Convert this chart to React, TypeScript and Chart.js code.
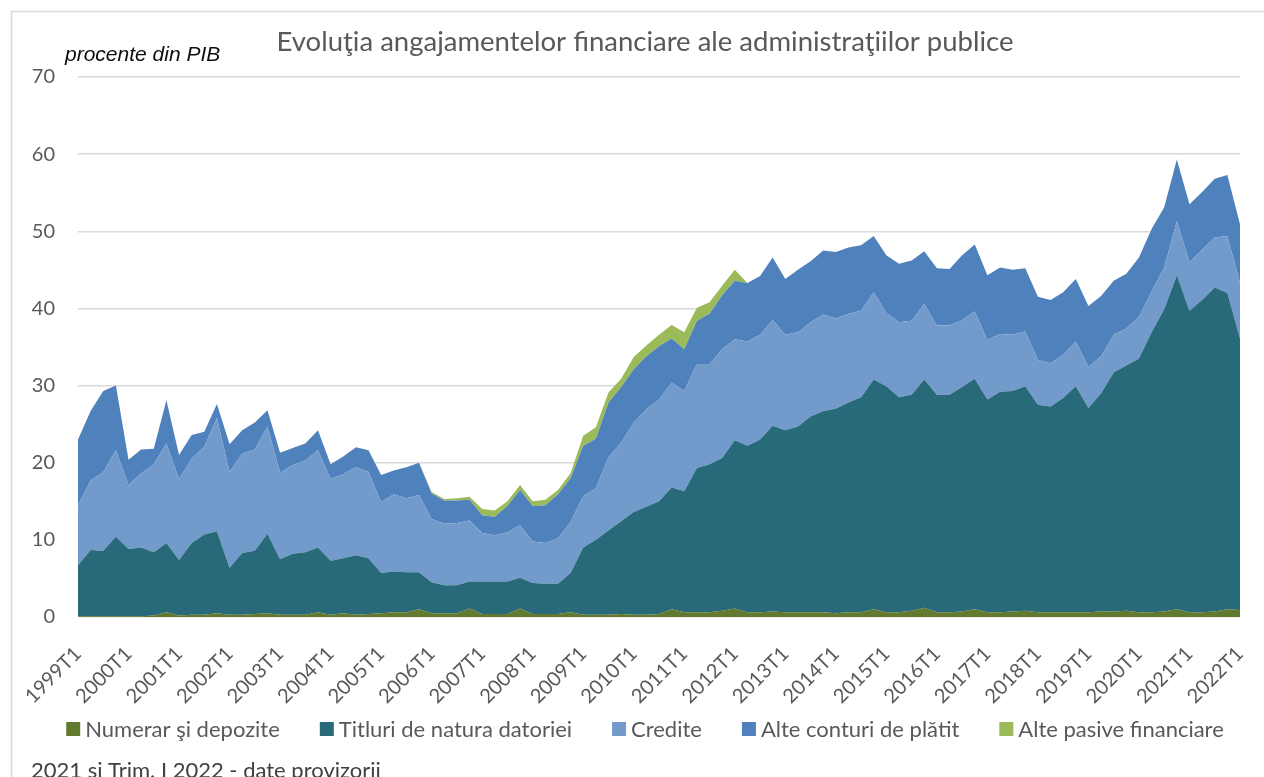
import React, { useEffect, useRef } from 'react';
import { Chart, registerables } from 'chart.js';

Chart.register(...registerables);

const TITLE = 'Evoluţia angajamentelor financiare ale administraţiilor publice';
const UNIT = 'procente din PIB';
const FOOTNOTE = '2021 și Trim. I 2022 - date provizorii';

const quarters: string[] = [];
for (let y = 1999; y <= 2022; y++) {
  for (let q = 1; q <= 4; q++) {
    if (y === 2022 && q > 1) break;
    quarters.push(`${y}T${q}`);
  }
}

const seriesNames = [
  'Numerar şi depozite',
  'Titluri de natura datoriei',
  'Credite',
  'Alte conturi de plătit',
  'Alte pasive financiare',
];
const seriesColors = ['#617a2f', '#28697a', '#729aca', '#4f81bd', '#9bbb59'];

const numerar = [
  0.1, 0.1, 0.1, 0.1, 0.1, 0.1, 0.2, 0.6, 0.2, 0.3,
  0.3, 0.5, 0.3, 0.3, 0.4, 0.5, 0.3, 0.3, 0.3, 0.6,
  0.3, 0.5, 0.3, 0.4, 0.5, 0.6, 0.6, 1.0, 0.5, 0.5,
  0.5, 1.1, 0.4, 0.4, 0.4, 1.1, 0.4, 0.4, 0.4, 0.6,
  0.3, 0.3, 0.3, 0.4, 0.3, 0.3, 0.4, 1.0, 0.6, 0.6,
  0.6, 0.8, 1.1, 0.6, 0.6, 0.7, 0.6, 0.6, 0.6, 0.6,
  0.5, 0.6, 0.6, 1.0, 0.6, 0.6, 0.8, 1.2, 0.6, 0.6,
  0.7, 1.0, 0.6, 0.6, 0.7, 0.8, 0.6, 0.6, 0.6, 0.6,
  0.6, 0.7, 0.7, 0.8, 0.6, 0.6, 0.7, 1.0, 0.6, 0.6,
  0.7, 1.0, 0.9,
];

const titluri = [
  6.6, 8.6, 8.5, 10.3, 8.7, 8.9, 8.2, 9.0, 7.2, 9.3,
  10.4, 10.6, 6.1, 8.0, 8.2, 10.3, 7.2, 7.9, 8.1, 8.4,
  7.0, 7.1, 7.7, 7.2, 5.2, 5.3, 5.2, 4.8, 4.0, 3.6,
  3.6, 3.5, 4.2, 4.2, 4.2, 4.0, 4.0, 3.9, 3.9, 5.1,
  8.7, 9.7, 10.9, 12.0, 13.3, 14.0, 14.6, 15.8, 15.7, 18.7,
  19.2, 19.8, 21.8, 21.6, 22.4, 24.1, 23.6, 24.1, 25.4, 26.1,
  26.5, 27.2, 27.9, 29.8, 29.3, 27.9, 28.0, 29.6, 28.2, 28.2,
  29.1, 29.9, 27.6, 28.6, 28.6, 29.1, 26.9, 26.7, 27.8, 29.3,
  26.5, 28.3, 31.0, 31.8, 32.9, 36.3, 39.2, 43.3, 39.1, 40.5,
  42.0, 41.0, 35.2,
];

const credite = [
  7.8, 9.0, 10.2, 11.2, 8.3, 9.6, 11.4, 12.9, 10.5, 10.9,
  11.4, 14.7, 12.4, 12.9, 13.1, 13.9, 11.2, 11.5, 11.9, 12.6,
  10.6, 10.9, 11.4, 11.2, 9.2, 10.0, 9.6, 10.0, 8.2, 8.0,
  8.1, 7.9, 6.3, 6.0, 6.4, 6.8, 5.4, 5.3, 5.9, 6.6,
  6.7, 6.7, 9.5, 10.2, 11.6, 12.6, 13.2, 13.6, 13.0, 13.5,
  13.0, 14.1, 13.1, 13.5, 13.6, 13.7, 12.4, 12.2, 12.2, 12.5,
  11.7, 11.5, 11.2, 11.3, 9.5, 9.7, 9.6, 9.8, 9.0, 9.0,
  8.7, 8.7, 7.7, 7.5, 7.3, 7.1, 5.8, 5.6, 5.6, 5.8,
  5.3, 4.8, 4.9, 4.8, 5.4, 5.3, 5.4, 7.0, 6.3, 6.5,
  6.5, 7.4, 7.2,
];

const alteConturi = [
  8.5, 9.0, 10.5, 8.4, 3.3, 3.1, 2.0, 5.6, 3.1, 3.1,
  1.9, 1.8, 3.6, 3.0, 3.5, 2.1, 2.6, 2.2, 2.2, 2.6,
  1.9, 2.3, 2.6, 2.8, 3.5, 3.1, 4.0, 4.2, 3.3, 3.0,
  2.9, 2.7, 2.3, 2.4, 3.4, 4.6, 4.6, 4.9, 5.7, 5.7,
  6.5, 6.4, 7.1, 7.2, 6.9, 6.9, 6.9, 5.7, 5.4, 5.6,
  6.5, 7.0, 7.6, 7.6, 7.6, 8.1, 7.2, 8.1, 7.9, 8.3,
  8.6, 8.6, 8.5, 7.3, 7.5, 7.6, 7.8, 6.8, 7.4, 7.3,
  8.4, 8.7, 8.4, 8.6, 8.4, 8.2, 8.2, 8.2, 8.1, 8.1,
  7.9, 7.8, 7.0, 7.1, 7.7, 8.1, 7.8, 8.0, 7.5, 7.5,
  7.6, 7.9, 7.6,
];

const altePasive = [
  0, 0, 0, 0, 0, 0, 0, 0, 0, 0,
  0, 0, 0, 0, 0, 0, 0, 0, 0, 0,
  0, 0, 0, 0, 0, 0, 0, 0, 0.2, 0.2,
  0.3, 0.4, 0.8, 0.8, 0.6, 0.6, 0.6, 0.7, 0.55, 0.65,
  1.3, 1.5, 1.3, 1.1, 1.6, 1.4, 1.5, 1.75, 2.2, 1.7,
  1.5, 1.25, 1.4, 0, 0, 0, 0, 0, 0, 0,
  0, 0, 0, 0, 0, 0, 0, 0, 0, 0,
  0, 0, 0, 0, 0, 0, 0, 0, 0, 0,
  0, 0, 0, 0, 0, 0, 0, 0, 0, 0,
  0, 0, 0,
];

const seriesData = [numerar, titluri, credite, alteConturi, altePasive];

const FONT = 'Lato, "Open Sans", sans-serif';

const decorPlugin = {
  id: 'decor',
  afterDraw(chart: any) {
    const ctx: CanvasRenderingContext2D = chart.ctx;
    ctx.save();
    // outer border
    ctx.strokeStyle = '#d9d9d9';
    ctx.lineWidth = 1.5;
    ctx.strokeRect(11.5, 11.5, 1500, 1000);
    // title
    ctx.font = `27.5px ${FONT}`;
    ctx.fillStyle = '#595959';
    ctx.textAlign = 'center';
    ctx.textBaseline = 'alphabetic';
    ctx.fillText(TITLE, 645, 51);
    // unit
    ctx.font = 'italic 21px "Liberation Sans", Arial, sans-serif';
    ctx.fillStyle = '#0d0d0d';
    ctx.textAlign = 'left';
    ctx.fillText(UNIT, 65, 61);
    // legend
    ctx.font = `22px ${FONT}`;
    const box = 14;
    const gapText = 5;
    const gapItem = 40;
    const items = chart.data.datasets.map((d: any) => ({
      text: d.label as string,
      color: d.backgroundColor as string,
      w: ctx.measureText(d.label).width,
    }));
    const total = items.reduce((s: number, it: any) => s + box + gapText + it.w, 0) + gapItem * (items.length - 1);
    let x = 645 - total / 2;
    const cy = 729;
    ctx.textBaseline = 'middle';
    items.forEach((it: any) => {
      ctx.fillStyle = it.color;
      ctx.fillRect(x, cy - box / 2, box, box);
      ctx.fillStyle = '#595959';
      ctx.fillText(it.text, x + box + gapText, cy + 1);
      x += box + gapText + it.w + gapItem;
    });
    // footnote
    ctx.textBaseline = 'alphabetic';
    ctx.fillStyle = '#404040';
    ctx.fillText(FOOTNOTE, 31, 778);
    ctx.restore();
  },
};

export default function App() {
  const canvasRef = useRef<HTMLCanvasElement | null>(null);

  useEffect(() => {
    if (!canvasRef.current) return;
    const chart = new Chart(canvasRef.current, {
      type: 'line',
      data: {
        labels: quarters,
        datasets: seriesNames.map((name, i) => ({
          label: name,
          data: seriesData[i],
          backgroundColor: seriesColors[i],
          borderColor: seriesColors[i],
          borderWidth: 0,
          pointRadius: 0,
          pointHoverRadius: 0,
          tension: 0,
          fill: i === 0 ? 'origin' : '-1',
        })),
      },
      options: {
        responsive: false,
        animation: false,
        events: [],
        layout: { padding: { left: 20, right: 24, top: 77, bottom: 60 } },
        plugins: {
          legend: { display: false },
          title: { display: false },
          tooltip: { enabled: false },
        },
        scales: {
          x: {
            grid: { display: false, drawTicks: false },
            border: { display: false },
            ticks: {
              autoSkip: false,
              minRotation: 45,
              maxRotation: 45,
              padding: 25,
              color: '#595959',
              font: { family: FONT, size: 20 },
              callback: (_v: any, i: number) => (i % 4 === 0 ? quarters[i] : null),
            },
            afterFit: (s: any) => {
              s.height = 100;
              s.paddingLeft = 0;
              s.paddingRight = 0;
            },
          },
          y: {
            stacked: true,
            min: 0,
            max: 70,
            ticks: {
              stepSize: 10,
              padding: 23,
              color: '#595959',
              font: { family: FONT, size: 20 },
            },
            grid: { color: '#d9d9d9', lineWidth: 1.5, drawTicks: false },
            border: { display: false },
            afterFit: (s: any) => {
              s.width = 58;
            },
          },
        },
      },
      plugins: [decorPlugin],
    } as any);
    return () => chart.destroy();
  }, []);

  return (
    <div style={{ position: 'absolute', left: 0, top: 0, width: 1264, height: 777, overflow: 'hidden', background: '#fff' }}>
      <canvas ref={canvasRef} width={1264} height={777} style={{ display: 'block' }} />
    </div>
  );
}
